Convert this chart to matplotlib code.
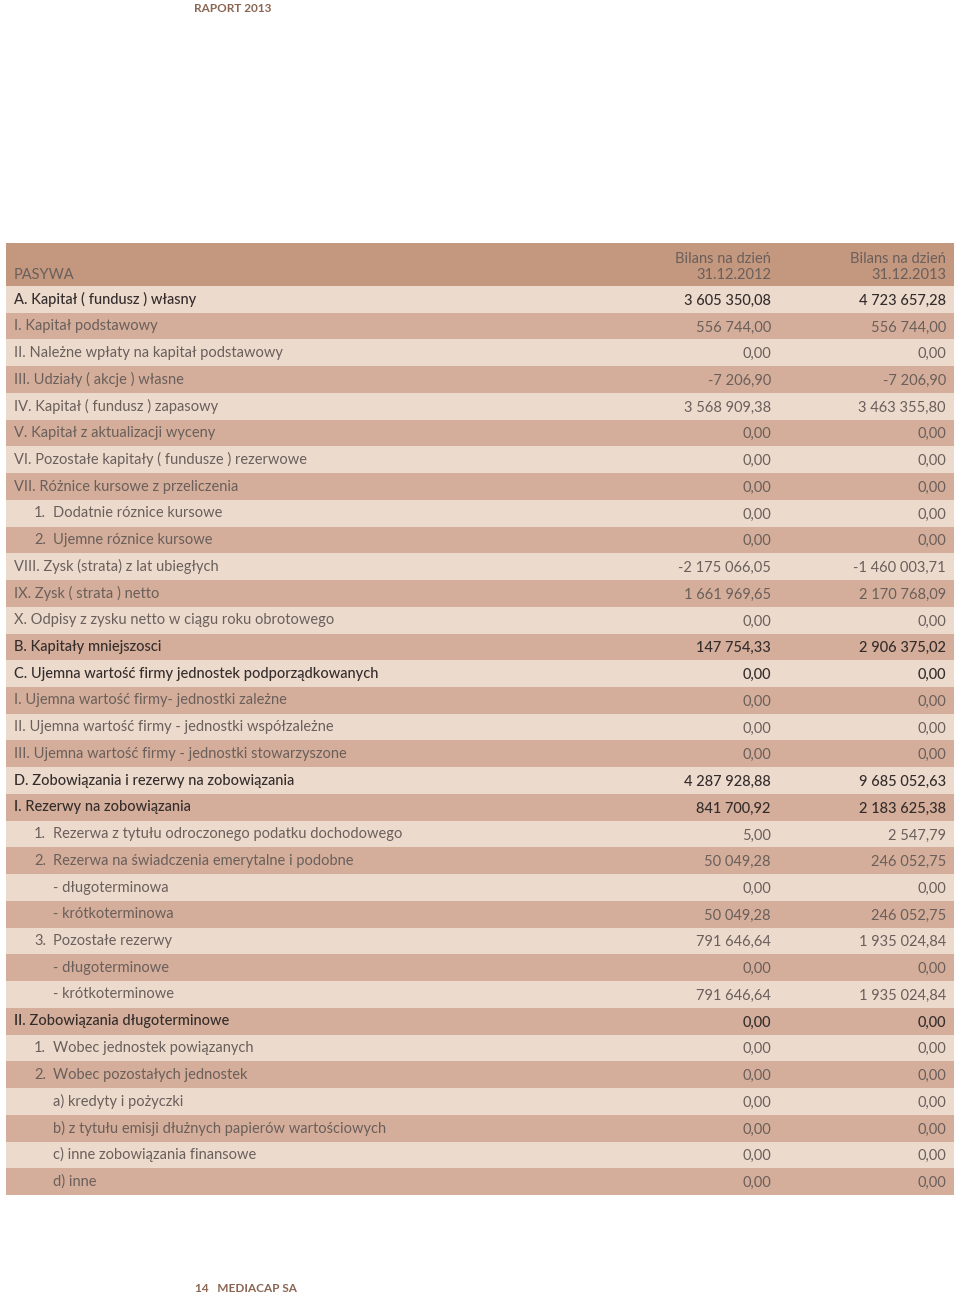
import matplotlib
matplotlib.use("Agg")
import matplotlib.pyplot as plt

# PASYWA table, Raport 2013, page 14
labels = [
    "A. Kapitał ( fundusz ) własny",
    "I. Kapitał podstawowy",
    "II. Należne wpłaty na kapitał podstawowy",
    "III. Udziały ( akcje ) własne",
    "IV. Kapitał ( fundusz ) zapasowy",
    "V. Kapitał z aktualizacji wyceny",
    "VI. Pozostałe kapitały ( fundusze ) rezerwowe",
    "VII. Różnice kursowe z przeliczenia",
    "1.  Dodatnie róznice kursowe",
    "2.  Ujemne róznice kursowe",
    "VIII. Zysk (strata) z lat ubiegłych",
    "IX. Zysk ( strata ) netto",
    "X. Odpisy z zysku netto w ciągu roku obrotowego",
    "B. Kapitały mniejszosci",
    "C. Ujemna wartość firmy jednostek podporządkowanych",
    "I. Ujemna wartość firmy- jednostki zależne",
    "II. Ujemna wartość firmy - jednostki współzależne",
    "III. Ujemna wartość firmy - jednostki stowarzyszone",
    "D. Zobowiązania i rezerwy na zobowiązania",
    "I. Rezerwy na zobowiązania",
    "1.  Rezerwa z tytułu odroczonego podatku dochodowego",
    "2.  Rezerwa na świadczenia emerytalne i podobne",
    "- długoterminowa",
    "- krótkoterminowa",
    "3.  Pozostałe rezerwy",
    "- długoterminowe",
    "- krótkoterminowe",
    "II. Zobowiązania długoterminowe",
    "1.  Wobec jednostek powiązanych",
    "2.  Wobec pozostałych jednostek",
    "a) kredyty i pożyczki",
    "b) z tytułu emisji dłużnych papierów wartościowych",
    "c) inne zobowiązania finansowe",
    "d) inne",
]
val_2012 = [
    "3 605 350,08", "556 744,00", "0,00", "-7 206,90", "3 568 909,38",
    "0,00", "0,00", "0,00", "0,00", "0,00", "-2 175 066,05", "1 661 969,65",
    "0,00", "147 754,33", "0,00", "0,00", "0,00", "0,00", "4 287 928,88",
    "841 700,92", "5,00", "50 049,28", "0,00", "50 049,28", "791 646,64",
    "0,00", "791 646,64", "0,00", "0,00", "0,00", "0,00", "0,00", "0,00", "0,00",
]
val_2013 = [
    "4 723 657,28", "556 744,00", "0,00", "-7 206,90", "3 463 355,80",
    "0,00", "0,00", "0,00", "0,00", "0,00", "-1 460 003,71", "2 170 768,09",
    "0,00", "2 906 375,02", "0,00", "0,00", "0,00", "0,00", "9 685 052,63",
    "2 183 625,38", "2 547,79", "246 052,75", "0,00", "246 052,75", "1 935 024,84",
    "0,00", "1 935 024,84", "0,00", "0,00", "0,00", "0,00", "0,00", "0,00", "0,00",
]
col_heads = ["Bilans na dzień\n31.12.2012", "Bilans na dzień\n31.12.2013"]

emph = {0, 13, 14, 18, 19, 27}

HEAD = "#c4977f"
LIGHT = "#ecdacd"
DARK = "#d4ae9a"
TXT = "#6a5f5b"
TXT_B = "#342d2b"
BROWN = "#8a6552"

plt.rcParams['font.family'] = ['Lato', 'DejaVu Sans']

fig = plt.figure(figsize=(9.6, 12.98), dpi=100)
fig.patch.set_facecolor("white")

n = len(labels)
hh = 43 / 26.74  # header height in row units
top, bot = 243, 1195
ax = fig.add_axes([6 / 960, 1 - bot / 1298, 948 / 960, (bot - top) / 1298])
ax.set_xlim(6, 954)
ax.set_ylim(n - 0.5, -0.5 - hh)
ax.axis("off")

rows = list(range(n))
ax.barh(rows, 948, left=6, height=1.0,
        color=[LIGHT if i % 2 == 0 else DARK for i in rows], linewidth=0)
ax.barh([-0.5 - hh / 2], 948, left=6, height=hh, color=HEAD, linewidth=0)

fs = 10.5
for i, lab in enumerate(labels):
    indent = lab[:2] in ("1.", "2.", "3.") or lab.startswith("-") or lab[1:2] == ")"
    col = TXT_B if i in emph else TXT
    wt = "medium" if i in emph else "normal"
    if lab[:2] in ("1.", "2.", "3."):
        ax.text(34, i, lab[:2], fontsize=fs, color=col, va="center", fontweight=wt)
        ax.text(53, i, lab[2:].strip(), fontsize=fs, color=col, va="center", fontweight=wt)
    else:
        ax.text(53 if indent else 14, i, lab, fontsize=fs, color=col,
                va="center", fontweight=wt)
    ax.text(771, i + 0.05, val_2012[i], fontsize=fs, color=col, va="center",
            ha="right", fontweight=wt)
    ax.text(946, i + 0.05, val_2013[i], fontsize=fs, color=col, va="center",
            ha="right", fontweight=wt)

ax.text(14, -0.5 - 0.26 * hh, "PASYWA", fontsize=fs, color=TXT, va="center")
for x, h in zip([771, 946], col_heads):
    l1, l2 = h.split("\n")
    ax.text(x, -0.5 - 0.63 * hh, l1, fontsize=fs, color=TXT, va="center", ha="right")
    ax.text(x, -0.5 - 0.26 * hh, l2, fontsize=fs, color=TXT, va="center", ha="right")

fig.text(194 / 960, 1 - 8 / 1298, "RAPORT 2013", fontsize=8.5, color=BROWN,
         va="center", fontweight="bold")
fig.text(195 / 960, 1 - 1288 / 1298, "14   MEDIACAP SA", fontsize=8.5, color=BROWN,
         va="center", fontweight="bold")

fig.savefig("out.png", dpi=100)
